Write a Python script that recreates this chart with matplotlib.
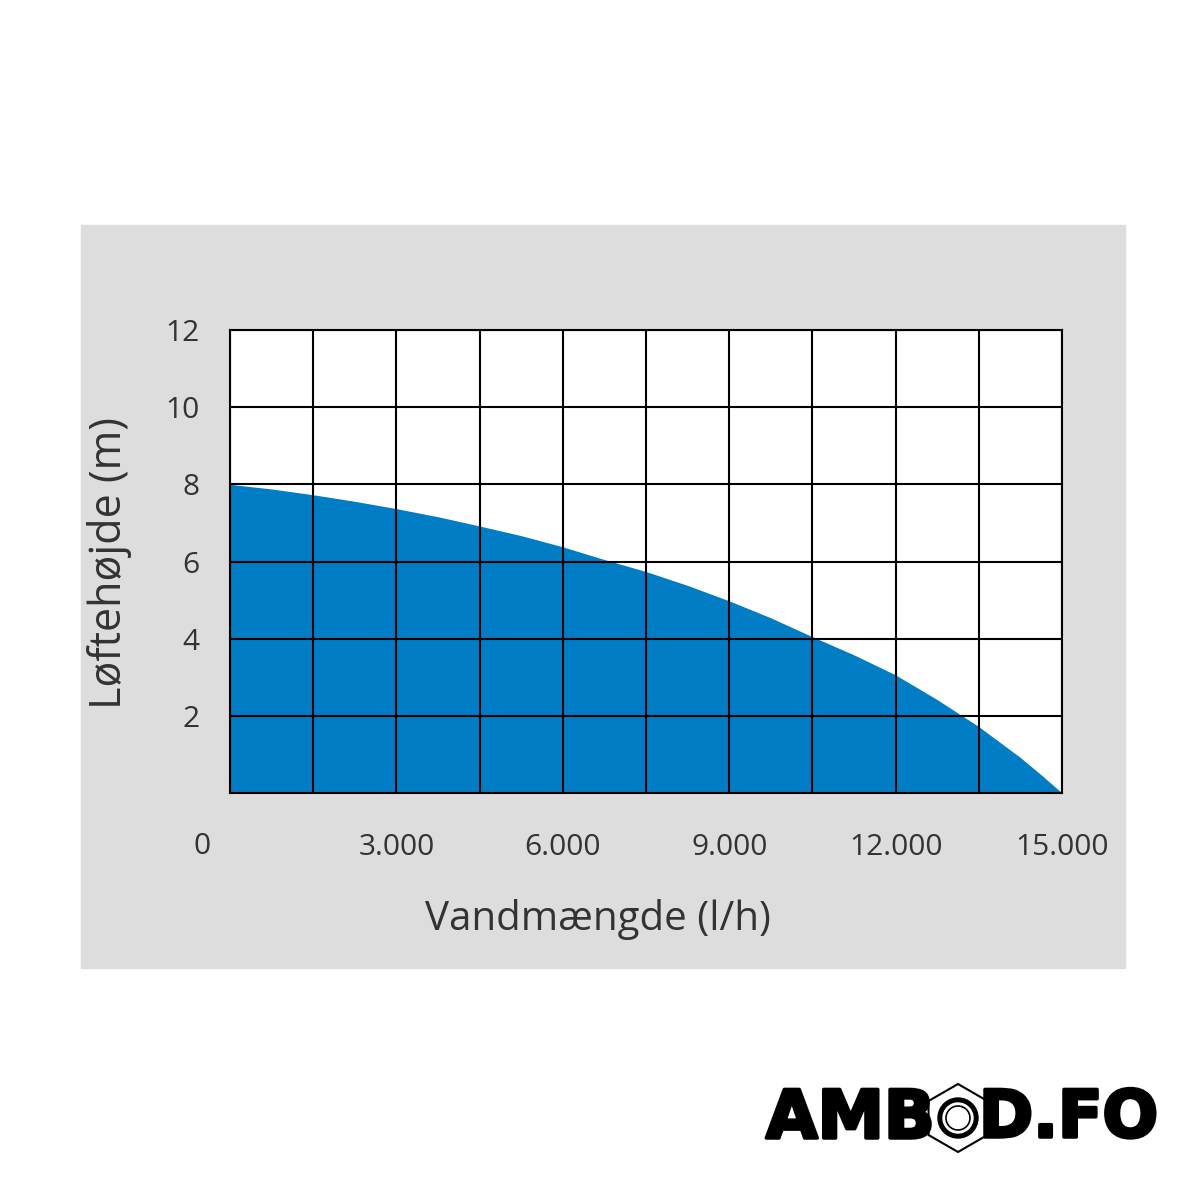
import matplotlib.pyplot as plt
import matplotlib.patheffects as pe
from matplotlib.patches import Rectangle, RegularPolygon, Circle

# pump curve
flow = [0, 750, 1500, 2250, 3000, 3750, 4500, 5250, 6000, 6750, 7500,
        8250, 9000, 9750, 10500, 11250, 12000, 12750, 13500, 14250, 14625, 15000]
head = [8.0, 7.88, 7.73, 7.56, 7.37, 7.16, 6.92, 6.67, 6.38, 6.05, 5.74,
        5.38, 4.98, 4.54, 4.05, 3.58, 3.06, 2.42, 1.72, 0.92, 0.47, 0.0]

x_ticks = [3000, 6000, 9000, 12000, 15000]
x_labels = ['3.000', '6.000', '9.000', '12.000', '15.000']
y_ticks = [2, 4, 6, 8, 10, 12]

blue = '#007dc5'
txt = '#333333'
plt.rcParams['font.family'] = ['Open Sans', 'DejaVu Sans']

fig = plt.figure(figsize=(12, 12), dpi=100)

# background layer in pixel coords
bg = fig.add_axes([0, 0, 1, 1], zorder=0)
bg.set_xlim(0, 1200)
bg.set_ylim(1200, 0)
bg.axis('off')
bg.add_patch(Rectangle((81, 225), 1044, 743, color='#dddddd'))

# logo
heavy = [pe.withStroke(linewidth=2.5, foreground='black')]
bg.text(766, 1119, 'AMB', fontsize=48, fontweight='heavy', family='DejaVu Sans',
        va='center', ha='left', color='black', path_effects=heavy)
bg.text(979, 1119, 'D.FO', fontsize=47, fontweight='heavy', family='DejaVu Sans',
        va='center', ha='left', color='black', path_effects=heavy)
bg.add_patch(RegularPolygon((958, 1118), 6, radius=34, orientation=0,
                            facecolor='white', edgecolor='black', lw=1.5))
bg.add_patch(Circle((958, 1118), 20, color='black'))
bg.add_patch(Circle((958, 1118), 15, color='white'))
bg.add_patch(Circle((958, 1118), 12, facecolor='none', edgecolor='black', lw=1.2))

ax = fig.add_axes([230 / 1200, 1 - 793 / 1200, 832 / 1200, 463 / 1200], zorder=1)
ax.set_facecolor('white')
ax.fill_between(flow, head, 0, color=blue, lw=0, zorder=1)

ax.set_xlim(0, 15000)
ax.set_ylim(0, 12)
grid_x = list(range(0, 15001, 1500))
ax.set_xticks(grid_x)
ax.set_xticklabels([x_labels[x_ticks.index(v)] if v in x_ticks else '' for v in grid_x])
ax.set_yticks(y_ticks)
ax.grid(True, color='black', lw=1.5)
ax.set_axisbelow(False)
for s in ax.spines.values():
    s.set_color('black')
    s.set_linewidth(1.5)
    s.set_zorder(3)

ax.tick_params(length=0, labelsize=21.5, labelcolor=txt)
ax.tick_params(axis='x', pad=29)
ax.tick_params(axis='y', pad=22)
bg.text(202, 846, '0', fontsize=21.5, color=txt, ha='center', va='center')

bg.text(598, 920, 'Vandmængde (l/h)', fontsize=29, color=txt, ha='center', va='center')
bg.text(110, 563, 'Løftehøjde (m)', fontsize=31, color=txt, ha='center', va='center',
        rotation=90)

fig.savefig('out.png', dpi=100)
